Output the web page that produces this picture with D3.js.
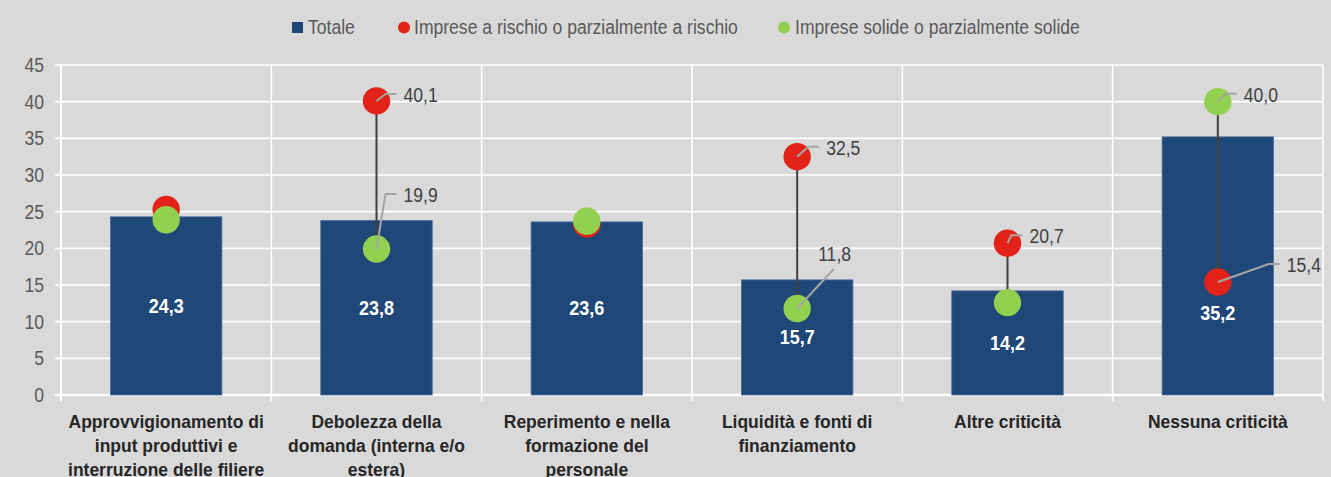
<!DOCTYPE html>
<html>
<head>
<meta charset="utf-8">
<script src="https://cdn.jsdelivr.net/npm/d3@7"></script>
<style>
  body { margin:0; background:#d9d9d9; }
  svg { display:block; font-family:"Liberation Sans Narrow","Arial Narrow","Liberation Sans",Arial,sans-serif; }
</style>
</head>
<body>
<svg id="chart" width="1331" height="477"></svg>
<script>
// dati
var categorie = [
  ["Approvvigionamento di","input produttivi e","interruzione delle filiere"],
  ["Debolezza della","domanda (interna e/o","estera)"],
  ["Reperimento e nella","formazione del","personale"],
  ["Liquidità e fonti di","finanziamento"],
  ["Altre criticità"],
  ["Nessuna criticità"]
];
var totale  = [24.3, 23.8, 23.6, 15.7, 14.2, 35.2];
var rischio = [25.3, 40.1, 23.3, 32.5, 20.7, 15.4];
var solide  = [23.9, 19.9, 23.7, 11.8, 12.6, 40.0];
var yTicks  = [0,5,10,15,20,25,30,35,40,45];
var legenda = ["Totale","Imprese a rischio o parzialmente a rischio","Imprese solide o parzialmente solide"];

// etichette dei punti (serie, indice, spostamento del testo)
var etichette = [
  {s:"r", i:1, dx:27, dy:-6},
  {s:"s", i:1, dx:27, dy:-54},
  {s:"r", i:3, dx:29, dy:-9},
  {s:"s", i:3, dx:21, dy:-54, sotto:true},
  {s:"r", i:4, dx:22, dy:-7},
  {s:"s", i:5, dx:26, dy:-7},
  {s:"r", i:5, dx:69, dy:-17}
];
var spostaTot = [0,0,0,0,0,47]; // etichetta barra spostata in giu

var blu="#1f4778", rosso="#e32219", verde="#92d050";
var fmt = function(v){ return d3.format(".1f")(v).replace(".",","); };

// niente font narrow: stringo il testo a mano
function stringi(sel,k){
  sel.each(function(){
    var n=this.getComputedTextLength();
    d3.select(this).attr("textLength",n*k).attr("lengthAdjust","spacingAndGlyphs");
  });
}

var svg = d3.select("#chart");
var x = d3.scaleBand().domain(d3.range(categorie.length)).range([61,1323]).padding(0);
var y = d3.scaleLinear().domain([0,45]).range([395,65]);
var bw = x.bandwidth()*0.53;
var cx = function(i){ return x(i)+x.bandwidth()/2; };

// griglia
svg.append("g").selectAll("line").data(yTicks).enter().append("line")
  .attr("x1",55).attr("x2",1323)
  .attr("y1",function(d){return y(d);}).attr("y2",function(d){return y(d);})
  .style("stroke","#fff").style("stroke-width",function(d){return d==0?2.5:1.6;});
var bordi = d3.range(categorie.length+1).map(function(i){ return i<categorie.length ? x(i) : 1323; });
svg.append("g").selectAll("line").data(bordi).enter().append("line")
  .attr("x1",function(d){return d;}).attr("x2",function(d){return d;})
  .attr("y1",y(45)).attr("y2",401)
  .style("stroke","#fff").style("stroke-width",function(d,i){return i==0?2:1.6;});

// assi
var ty = svg.append("g").selectAll("text").data(yTicks).enter().append("text")
  .attr("x",44).attr("y",function(d){return y(d)+7;})
  .attr("text-anchor","end").style("font-size","19.5px").style("fill","#595959")
  .text(function(d){return d;});
stringi(ty,0.9);

var gc = svg.append("g").selectAll("text").data(categorie).enter().append("text")
  .attr("text-anchor","middle").style("font-size","19px").style("font-weight","bold").style("fill","#262626");
gc.each(function(d,i){
  var t=d3.select(this);
  d.forEach(function(riga,k){
    t.append("tspan").attr("x",cx(i)).attr("y",428+k*24).text(riga);
  });
});
stringi(gc.selectAll("tspan"),0.92);

// barre
svg.append("g").selectAll("rect").data(totale).enter().append("rect")
  .attr("x",function(d,i){return cx(i)-bw/2;}).attr("width",bw)
  .attr("y",function(d){return y(d);}).attr("height",function(d){return y(0)-y(d);})
  .style("fill",blu).style("stroke","#4f6f9f").style("stroke-width",0.8);
var tb = svg.append("g").selectAll("text").data(totale).enter().append("text")
  .attr("x",function(d,i){return cx(i);})
  .attr("y",function(d,i){return y(d/2)+7+spostaTot[i];})
  .attr("text-anchor","middle").style("font-size","20px").style("font-weight","bold").style("fill","#fff")
  .text(fmt);
stringi(tb,0.9);

// collegamenti
svg.append("g").selectAll("line").data(totale).enter().append("line")
  .attr("x1",function(d,i){return cx(i);}).attr("x2",function(d,i){return cx(i);})
  .attr("y1",function(d,i){return y(rischio[i]);}).attr("y2",function(d,i){return y(solide[i]);})
  .style("stroke","#404040").style("stroke-width",2);

// punti
svg.append("g").selectAll("circle").data(rischio).enter().append("circle")
  .attr("cx",function(d,i){return cx(i);}).attr("cy",function(d){return y(d);})
  .attr("r",13.7).style("fill",rosso);
svg.append("g").selectAll("circle").data(solide).enter().append("circle")
  .attr("cx",function(d,i){return cx(i);}).attr("cy",function(d){return y(d);})
  .attr("r",13.7).style("fill",verde);

// linee guida delle etichette, sopra i punti
var valore = function(e){ return e.s=="r" ? rischio[e.i] : solide[e.i]; };
var guida = d3.line();
svg.append("g").selectAll("path").data(etichette).enter().append("path")
  .attr("d",function(e){
    var px=cx(e.i), py=y(valore(e));
    var tx=px+e.dx, ty=py+e.dy;
    if(e.sotto) return guida([[px,py],[tx+16,ty+14]]);
    return guida([[px,py],[tx-18,ty-1],[tx-7,ty-1]]);
  })
  .style("fill","none").style("stroke","#a6a6a6").style("stroke-width",2);

var te = svg.append("g").selectAll("text").data(etichette).enter().append("text")
  .attr("x",function(e){return cx(e.i)+e.dx;})
  .attr("y",function(e){return y(valore(e))+e.dy+7;})
  .style("font-size","19.5px").style("fill","#404040")
  .text(function(e){return fmt(valore(e));});
stringi(te,0.9);

// legenda
var lg = svg.append("g");
lg.append("rect").attr("x",292).attr("y",22).attr("width",11).attr("height",11).style("fill",blu);
lg.append("text").attr("x",308).attr("y",34).text(legenda[0]);
lg.append("circle").attr("cx",404).attr("cy",27.5).attr("r",6).style("fill",rosso);
lg.append("text").attr("x",414).attr("y",34).text(legenda[1]);
lg.append("circle").attr("cx",784).attr("cy",27.5).attr("r",6).style("fill",verde);
lg.append("text").attr("x",795).attr("y",34).text(legenda[2]);
lg.selectAll("text").style("font-size","19.5px").style("fill","#595959");
stringi(lg.selectAll("text"),0.9);
</script>
</body>
</html>
